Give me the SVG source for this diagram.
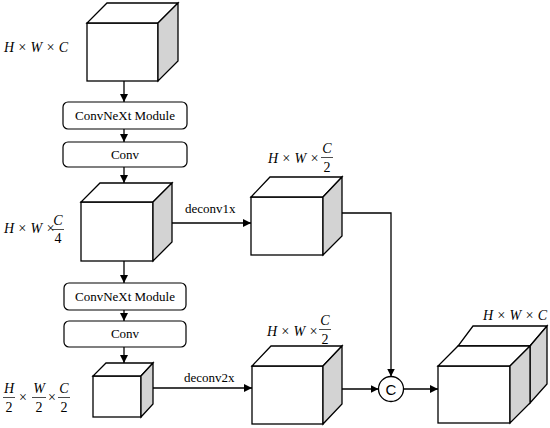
<svg xmlns="http://www.w3.org/2000/svg" width="550" height="428" viewBox="0 0 550 428">
<defs>
<marker id="ah" markerUnits="userSpaceOnUse" markerWidth="9" markerHeight="8" refX="8" refY="4" orient="auto">
<path d="M0,0 L8,4 L0,8 z" fill="#000"/>
</marker>
<style>
.f{fill:#fff;stroke:#000;stroke-width:1.3;stroke-linejoin:miter}
.s{fill:#d3d3d3;stroke:#000;stroke-width:1.3}
.box{fill:#fff;stroke:#000;stroke-width:1.2}
.ln{fill:none;stroke:#000;stroke-width:1.3}
.t{font-family:"Liberation Serif",serif;font-size:13px;fill:#000}
.m{font-family:"Liberation Serif",serif;font-size:14px;font-style:italic;fill:#000}
.d{font-family:"Liberation Serif",serif;font-size:14px;fill:#000}
.bar{stroke:#000;stroke-width:0.7}
</style>
</defs>
<rect width="550" height="428" fill="#fff"/>

<g id="cube1">
<rect class="f" x="87" y="23" width="71" height="58"/>
<polygon class="f" points="87,23 158,23 178,3 107,3"/>
<polygon class="s" points="158,23 178,3 178,61 158,81"/>
<text class="m" x="4" y="52" xml:space="preserve">H × W × C</text>
</g>

<g id="convnext1">
<rect class="box" x="63" y="102" width="124" height="27" rx="5"/>
<text class="t" x="125" y="120" text-anchor="middle">ConvNeXt Module</text>
</g>
<g id="conv1">
<rect class="box" x="63" y="142" width="124" height="25" rx="5"/>
<text class="t" x="125" y="159" text-anchor="middle">Conv</text>
</g>

<g id="cube2">
<rect class="f" x="81" y="202" width="72" height="59"/>
<polygon class="f" points="81,202 153,202 172,183 100,183"/>
<polygon class="s" points="153,202 172,183 172,242 153,261"/>
<text class="m" x="4" y="233" xml:space="preserve">H × W ×</text>
<text class="m" x="58" y="225" text-anchor="middle">C</text>
<line class="bar" x1="52" y1="229.5" x2="64" y2="229.5"/>
<text class="d" x="58" y="243" text-anchor="middle">4</text>
</g>

<g id="convnext2">
<rect class="box" x="64" y="283" width="122" height="27" rx="5"/>
<text class="t" x="125" y="301" text-anchor="middle">ConvNeXt Module</text>
</g>
<g id="conv2">
<rect class="box" x="64" y="321" width="122" height="26" rx="5"/>
<text class="t" x="125" y="338" text-anchor="middle">Conv</text>
</g>

<g id="cube4">
<rect class="f" x="93" y="376" width="48" height="41"/>
<polygon class="f" points="93,376 141,376 153,363 106,363"/>
<polygon class="s" points="141,376 153,363 153,404 141,417"/>
<text class="m" x="9" y="393" text-anchor="middle">H</text>
<line class="bar" x1="3" y1="397.5" x2="15" y2="397.5"/>
<text class="d" x="9" y="412" text-anchor="middle">2</text>
<text class="d" x="23" y="402" text-anchor="middle">×</text>
<text class="m" x="39" y="393" text-anchor="middle">W</text>
<line class="bar" x1="32" y1="397.5" x2="46" y2="397.5"/>
<text class="d" x="39" y="412" text-anchor="middle">2</text>
<text class="d" x="52" y="402" text-anchor="middle">×</text>
<text class="m" x="64" y="393" text-anchor="middle">C</text>
<line class="bar" x1="58" y1="397.5" x2="70" y2="397.5"/>
<text class="d" x="64" y="412" text-anchor="middle">2</text>
</g>

<g id="cube3">
<rect class="f" x="251" y="197" width="72" height="58"/>
<polygon class="f" points="251,197 323,197 342,177 270,177"/>
<polygon class="s" points="323,197 342,177 342,236 323,255"/>
<text class="m" x="268" y="163" xml:space="preserve">H × W ×</text>
<text class="m" x="327" y="153" text-anchor="middle">C</text>
<line class="bar" x1="321" y1="157.5" x2="333" y2="157.5"/>
<text class="d" x="327" y="172" text-anchor="middle">2</text>
</g>

<g id="cube5">
<rect class="f" x="252" y="366" width="71" height="58"/>
<polygon class="f" points="252,366 323,366 342,346 271,346"/>
<polygon class="s" points="323,366 342,346 342,404 323,424"/>
<text class="m" x="267" y="336" xml:space="preserve">H × W ×</text>
<text class="m" x="325" y="325" text-anchor="middle">C</text>
<line class="bar" x1="319" y1="329.5" x2="331" y2="329.5"/>
<text class="d" x="325" y="344" text-anchor="middle">2</text>
</g>

<g id="concat">
<circle cx="391" cy="389" r="12.5" fill="#fff" stroke="#000" stroke-width="1.3"/>
<text x="391" y="394.5" text-anchor="middle" font-family="Liberation Sans, sans-serif" font-size="15">C</text>
</g>

<g id="cube6">
<polygon class="f" points="458,346 530,346 547,326 473,326"/>
<polygon class="s" points="530,346 547,326 547,384 530,403"/>
<rect class="f" x="438" y="366" width="72" height="57"/>
<polygon class="f" points="438,366 510,366 530,346 458,346"/>
<polygon class="s" points="510,366 530,346 530,403 510,423"/>
<text class="m" x="483" y="320" xml:space="preserve">H × W × C</text>
</g>

<g id="connectors">
<line class="ln" x1="124" y1="81" x2="124" y2="102" marker-end="url(#ah)"/>
<line class="ln" x1="124" y1="129" x2="124" y2="142" marker-end="url(#ah)"/>
<line class="ln" x1="124" y1="167" x2="124" y2="183" marker-end="url(#ah)"/>
<line class="ln" x1="124" y1="261" x2="124" y2="283" marker-end="url(#ah)"/>
<line class="ln" x1="124" y1="310" x2="124" y2="321" marker-end="url(#ah)"/>
<line class="ln" x1="124" y1="347" x2="124" y2="363" marker-end="url(#ah)"/>
<line class="ln" x1="172" y1="223" x2="251" y2="223" marker-end="url(#ah)"/>
<text class="t" x="185" y="213">deconv1x</text>
<line class="ln" x1="153" y1="388" x2="252" y2="388" marker-end="url(#ah)"/>
<text class="t" x="184" y="382">deconv2x</text>
<polyline class="ln" points="342,213 391,213 391,376.5" marker-end="url(#ah)"/>
<line class="ln" x1="342" y1="389" x2="378.5" y2="389" marker-end="url(#ah)"/>
<line class="ln" x1="403.5" y1="389" x2="438" y2="389" marker-end="url(#ah)"/>
</g>
</svg>
